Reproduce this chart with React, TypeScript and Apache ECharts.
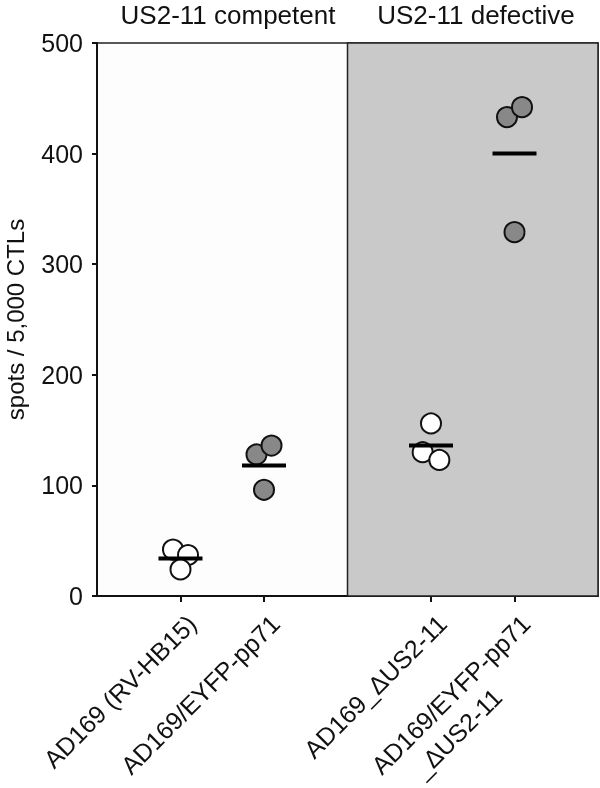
import React, { useEffect, useRef } from "react";
import * as echarts from "echarts";

const categories = ["AD169 (RV-HB15)", "AD169/EYFP-pp71", "AD169_ΔUS2-11", "AD169/EYFP-pp71\n_ΔUS2-11"];
const categoryPositions = [1, 2, 4, 5];
const groupLabels = ["US2-11 competent", "US2-11 defective"];
const groupSplit = 3;
const yTicks = [0, 100, 200, 300, 400, 500];

// replicate values for each category
const replicates = [
  [42, 37, 24],
  [128, 136, 96],
  [156, 130, 123],
  [433, 442, 329],
];
// horizontal jitter of each replicate (in category units)
const jitter = [
  [-0.09, 0.09, 0],
  [-0.09, 0.09, 0],
  [0, -0.1, 0.1],
  [-0.09, 0.09, 0],
];
const means = [34, 118, 136, 400];
const filled = [false, true, false, true];

const FONT = "'Liberation Sans', Arial, Helvetica, sans-serif";

export default function App() {
  const ref = useRef<HTMLDivElement>(null);
  useEffect(() => {
    if (!ref.current) return;
    const chart = echarts.init(ref.current, undefined, { renderer: "svg" });
    const openPts: number[][] = [];
    const filledPts: number[][] = [];
    replicates.forEach((vals, i) => {
      vals.forEach((v, j) => {
        const p = [categoryPositions[i] + jitter[i][j], v];
        (filled[i] ? filledPts : openPts).push(p);
      });
    });
    const meanPts = means.map((m, i) => [categoryPositions[i], m]);
    const labelFor = (v: number) => {
      const idx = categoryPositions.indexOf(v);
      if (idx < 0) return "";
      const lines = categories[idx].split("\n");
      if (lines.length === 1) return `{a|${lines[0]}}`;
      return `{a|${lines[0]}}\n{b|${lines[1]}}`;
    };
    chart.setOption({
      animation: false,
      textStyle: { fontFamily: FONT },
      grid: {
        left: 97,
        right: 2,
        top: 43,
        bottom: 192,
        outerBoundsMode: "none",
        containLabel: false,
        show: true,
        backgroundColor: "#fdfdfd",
        borderColor: "#222",
        borderWidth: 1.5,
      },
      graphic: [
        {
          type: "text",
          x: 228,
          y: 15,
          style: { text: groupLabels[0], font: `26px ${FONT}`, fill: "#111", align: "center", verticalAlign: "middle" },
        },
        {
          type: "text",
          x: 476,
          y: 15,
          style: { text: groupLabels[1], font: `26px ${FONT}`, fill: "#111", align: "center", verticalAlign: "middle" },
        },
      ],
      xAxis: {
        type: "value",
        min: 0,
        max: 6,
        interval: 1,
        splitLine: { show: false },
        axisLine: { show: true, onZero: false, lineStyle: { color: "#111", width: 2 } },
        axisTick: { show: true, customValues: categoryPositions, length: 6, lineStyle: { color: "#111", width: 2 } },
        axisLabel: {
          customValues: categoryPositions,
          rotate: 45,
          margin: 12,
          verticalAlign: "top",
          color: "#111",
          fontSize: 25,
          fontFamily: FONT,
          formatter: (v: number) => labelFor(v),
          rich: {
            a: { fontSize: 25, fontFamily: FONT, color: "#111", lineHeight: 32, padding: [0, 0, 0, 0] },
            b: { fontSize: 25, fontFamily: FONT, color: "#111", lineHeight: 32, padding: [0, 72, 0, 0] },
          },
        },
      },
      yAxis: {
        type: "value",
        min: yTicks[0],
        max: yTicks[yTicks.length - 1],
        interval: 100,
        name: "spots / 5,000 CTLs",
        nameLocation: "middle",
        nameGap: 70,
        nameTextStyle: { fontSize: 24, color: "#111", fontFamily: FONT },
        splitLine: { show: false },
        axisLine: { show: true, lineStyle: { color: "#111", width: 2 } },
        axisTick: { show: true, length: 5, lineStyle: { color: "#111", width: 2 } },
        axisLabel: { fontSize: 25, color: "#111", margin: 14, fontFamily: FONT },
      },
      series: [
        {
          type: "scatter",
          name: "open",
          data: openPts,
          symbol: "circle",
          symbolSize: 20,
          itemStyle: { color: "#ffffff", borderColor: "#111", borderWidth: 2, opacity: 1 },
          z: 3,
          markArea: {
            silent: true,
            itemStyle: { color: "#c9c9c9", borderColor: "#222", borderWidth: 1.5 },
            data: [[{ xAxis: groupSplit }, { xAxis: 6 }]],
          },
        },
        {
          type: "scatter",
          name: "filled",
          data: filledPts,
          symbol: "circle",
          symbolSize: 20,
          itemStyle: { color: "#888888", borderColor: "#111", borderWidth: 2, opacity: 1 },
          z: 3,
        },
        {
          type: "scatter",
          name: "mean",
          data: meanPts,
          symbol: "rect",
          symbolSize: [44, 4],
          itemStyle: { color: "#000", opacity: 1 },
          z: 4,
        },
      ],
    });
    return () => chart.dispose();
  }, []);
  return <div ref={ref} style={{ position: "fixed", left: 0, top: 0, width: 600, height: 788 }} />;
}
